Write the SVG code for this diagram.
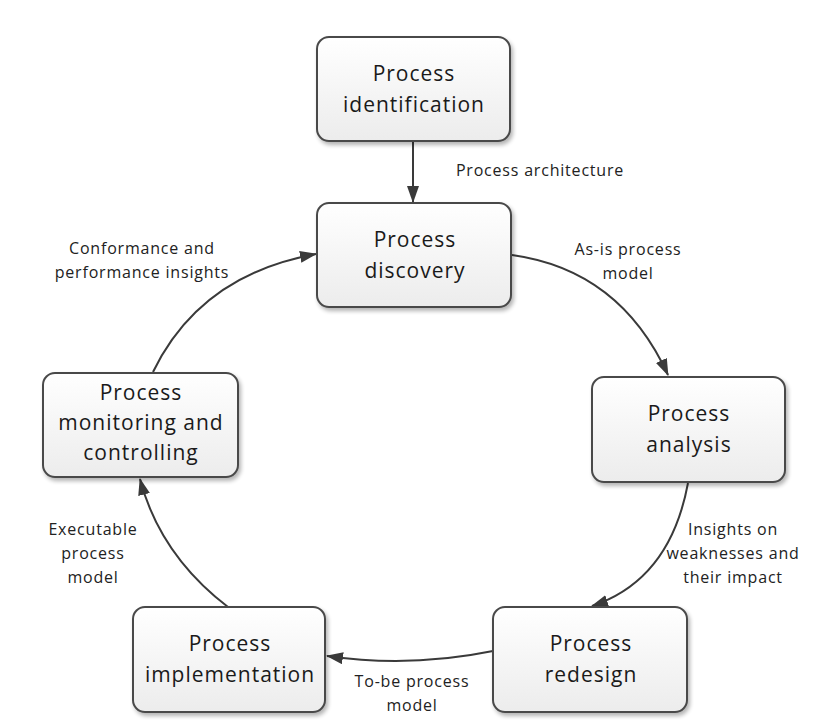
<svg xmlns="http://www.w3.org/2000/svg" width="824" height="728" viewBox="0 0 824 728">
  <defs>
    <linearGradient id="boxFill" x1="0" y1="0" x2="0" y2="1">
      <stop offset="0" stop-color="#ffffff"/>
      <stop offset="1" stop-color="#ececec"/>
    </linearGradient>
    <filter id="shadow" x="-10%" y="-10%" width="125%" height="130%">
      <feGaussianBlur in="SourceAlpha" stdDeviation="2"/>
      <feOffset dx="2" dy="3" result="b"/>
      <feComponentTransfer><feFuncA type="linear" slope="0.3"/></feComponentTransfer>
      <feMerge><feMergeNode/><feMergeNode in="SourceGraphic"/></feMerge>
    </filter>
    <marker id="arrow" viewBox="0 0 17 12" refX="16" refY="6" markerWidth="17" markerHeight="12" markerUnits="userSpaceOnUse" orient="auto">
      <path d="M0,0 L17,6 L0,12 Z" fill="#3a3a3a"/>
    </marker>
    <style>
      .box { fill: url(#boxFill); stroke: #4a4a4a; stroke-width: 2; filter: url(#shadow); }
      .node-text { font-family: "Open Sans", "Noto Sans", sans-serif; font-size: 21px; letter-spacing: 1px; fill: #1a1a1a; text-anchor: middle; }
      .edge { fill: none; stroke: #3a3a3a; stroke-width: 2; marker-end: url(#arrow); }
      .label { font-family: "Open Sans", "Noto Sans", sans-serif; font-size: 16px; letter-spacing: 0.8px; fill: #222; text-anchor: middle; }
    </style>
  </defs>

  <rect width="824" height="728" fill="#ffffff"/>

  <!-- connectors -->
  <g id="connectors">
    <path class="edge" d="M413,142 L413,202"/>
    <path class="edge" d="M512,255 Q620,270 668,375"/>
    <path class="edge" d="M688,483 Q670,580 592,606"/>
    <path class="edge" d="M493,651 Q410,668 327,656"/>
    <path class="edge" d="M228,607 Q160,555 140,479"/>
    <path class="edge" d="M153,372 Q200,275 316,254"/>
  </g>

  <!-- connector labels -->
  <g id="labels">
    <text class="label" x="540" y="176">Process architecture</text>
    <text class="label" x="142" y="254">Conformance and</text>
    <text class="label" x="142" y="278">performance insights</text>
    <text class="label" x="628" y="255">As-is process</text>
    <text class="label" x="628" y="279">model</text>
    <text class="label" x="733" y="535">Insights on</text>
    <text class="label" x="733" y="559">weaknesses and</text>
    <text class="label" x="733" y="583">their impact</text>
    <text class="label" x="412" y="687">To-be process</text>
    <text class="label" x="412" y="711">model</text>
    <text class="label" x="93" y="535">Executable</text>
    <text class="label" x="93" y="559">process</text>
    <text class="label" x="93" y="583">model</text>
  </g>

  <!-- nodes -->
  <g id="identification">
    <rect class="box" x="317" y="37" width="193" height="104" rx="12"/>
    <text class="node-text" x="414" y="81">Process</text>
    <text class="node-text" x="414" y="112">identification</text>
  </g>
  <g id="discovery">
    <rect class="box" x="317" y="203" width="194" height="104" rx="12"/>
    <text class="node-text" x="415" y="247">Process</text>
    <text class="node-text" x="415" y="278">discovery</text>
  </g>
  <g id="analysis">
    <rect class="box" x="592" y="377" width="193" height="105" rx="12"/>
    <text class="node-text" x="689" y="421">Process</text>
    <text class="node-text" x="689" y="452">analysis</text>
  </g>
  <g id="redesign">
    <rect class="box" x="493" y="607" width="194" height="105" rx="12"/>
    <text class="node-text" x="591" y="651">Process</text>
    <text class="node-text" x="591" y="682">redesign</text>
  </g>
  <g id="implementation">
    <rect class="box" x="133" y="607" width="192" height="105" rx="12"/>
    <text class="node-text" x="230" y="651">Process</text>
    <text class="node-text" x="230" y="682">implementation</text>
  </g>
  <g id="monitoring">
    <rect class="box" x="43" y="373" width="195" height="104" rx="12"/>
    <text class="node-text" x="141" y="400">Process</text>
    <text class="node-text" x="141" y="430">monitoring and</text>
    <text class="node-text" x="141" y="460">controlling</text>
  </g>
</svg>
